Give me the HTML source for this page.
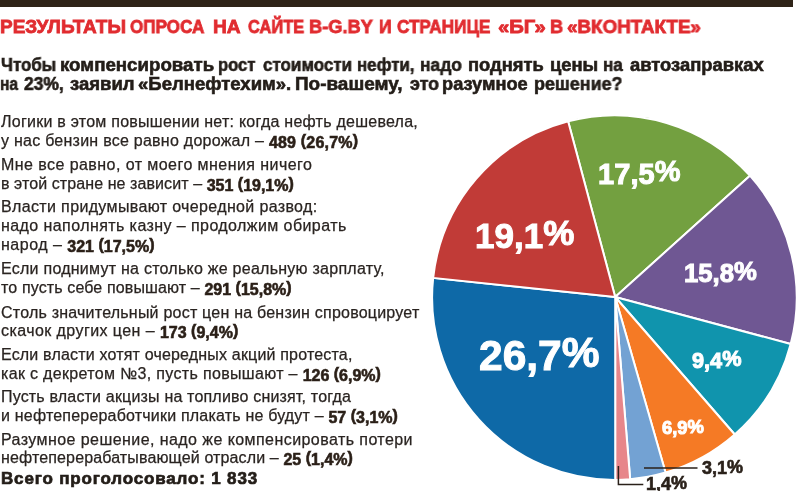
<!DOCTYPE html>
<html><head><meta charset="utf-8">
<style>
html,body{margin:0;padding:0;background:#fff;}
body{width:800px;height:491px;position:relative;overflow:hidden;font-family:"Liberation Sans",sans-serif;color:#2a2522;}
.bar{position:absolute;left:0;top:0;width:793px;height:7px;background:#2f2418;}
.l{position:absolute;left:1px;white-space:nowrap;line-height:20px;will-change:transform;}
.title{position:absolute;left:0;top:17px;height:20px;color:#e12c30;font-weight:bold;font-size:19px;line-height:20px;-webkit-text-stroke:0.8px #e12c30;}
.tw{position:absolute;top:0;white-space:nowrap;transform-origin:0 0;will-change:transform;}
.sub{position:absolute;left:0;height:20px;line-height:20px;color:#231d18;font-weight:bold;font-size:18px;-webkit-text-stroke:0.6px #231d18;}
.it{font-size:16px;color:#2a2421;-webkit-text-stroke:0.25px #2a2421;}
.it b{color:#2a1f17;letter-spacing:0;-webkit-text-stroke:0.6px #2a1f17;}
.it i{font-style:normal;position:relative;top:2px;}
.tot{font-weight:bold;font-size:17px;color:#231d18;-webkit-text-stroke:0.7px #231d18;}
svg{position:absolute;left:0;top:0;}
.d{position:relative;}
.pl{position:absolute;will-change:transform;white-space:nowrap;color:#fff;font-weight:bold;line-height:1;-webkit-text-stroke:1px #fff;}
.ol{position:absolute;will-change:transform;white-space:nowrap;color:#2a211a;font-weight:bold;line-height:1;-webkit-text-stroke:0.6px #2a211a;}
</style></head><body>
<div class="bar"></div>
<div class="title" id="t1"><span class="tw" style="left:0.25px;transform:scaleX(0.998)">РЕЗУЛЬТАТЫ</span><span class="tw" style="left:130.00px;transform:scaleX(0.899)">ОПРОСА</span><span class="tw" style="left:212.74px;transform:scaleX(1.010)">НА</span><span class="tw" style="left:247.50px;transform:scaleX(0.865)">САЙТЕ</span><span class="tw" style="left:309.04px;transform:scaleX(0.962)">B-G.BY</span><span class="tw" style="left:378.58px;transform:scaleX(0.917)">И</span><span class="tw" style="left:397.00px;transform:scaleX(0.903)">СТРАНИЦЕ</span><span class="tw" style="left:497.50px;transform:scaleX(1.068)">«БГ»</span><span class="tw" style="left:550.04px;transform:scaleX(0.958)">В</span><span class="tw" style="left:567.00px;transform:scaleX(0.989)">«ВКОНТАКТЕ»</span></div>
<div class="sub" id="s1" style="top:55px"><span class="tw" style="left:0.50px;transform:scaleX(0.940)">Чтобы</span><span class="tw" style="left:59.96px;transform:scaleX(1.039)">компенсировать</span><span class="tw" style="left:217.83px;transform:scaleX(0.921)">рост</span><span class="tw" style="left:262.50px;transform:scaleX(0.944)">стоимости</span><span class="tw" style="left:356.56px;transform:scaleX(0.938)">нефти,</span><span class="tw" style="left:419.63px;transform:scaleX(0.968)">надо</span><span class="tw" style="left:468.38px;transform:scaleX(1.018)">поднять</span><span class="tw" style="left:549.58px;transform:scaleX(1.020)">цены</span><span class="tw" style="left:603.45px;transform:scaleX(0.952)">на</span><span class="tw" style="left:630.00px;transform:scaleX(1.021)">автозаправках</span></div>
<div class="sub" id="s2" style="top:74px"><span class="tw" style="left:-0.37px;transform:scaleX(0.869)">на</span><span class="tw" style="left:23.75px;transform:scaleX(0.969)">23%,</span><span class="tw" style="left:70.00px;transform:scaleX(1.028)">заявил</span><span class="tw" style="left:137.50px;transform:scaleX(1.030)">«Белнефтехим».</span><span class="tw" style="left:295.20px;transform:scaleX(1.052)">По-вашему,</span><span class="tw" style="left:410.00px;transform:scaleX(0.991)">это</span><span class="tw" style="left:442.09px;transform:scaleX(1.012)">разумное</span><span class="tw" style="left:534.01px;transform:scaleX(0.994)">решение?</span></div>

<div class="l it" id="a1" style="top:112px;letter-spacing:0.25px">Логики в этом повышении нет: когда нефть дешевела,</div>
<div class="l it" id="a2" style="top:131px;letter-spacing:0.25px">у нас бензин все равно дорожал – <b style="letter-spacing:0.2px"><i>489</i> (<i>26,7%</i>)</b></div>
<div class="l it" id="b1" style="top:155px;letter-spacing:0.44px">Мне все равно, от моего мнения ничего</div>
<div class="l it" id="b2" style="top:174px;letter-spacing:0.083px">в этой стране не зависит – <b><i>351</i> (<i>19,1%</i>)</b></div>
<div class="l it" id="c1" style="top:197px;letter-spacing:0.356px">Власти придумывают очередной развод:</div>
<div class="l it" id="c2" style="top:216px;letter-spacing:0.42px">надо наполнять казну – продолжим обирать</div>
<div class="l it" id="c3" style="top:235px;letter-spacing:0.5px">народ – <b><i>321</i> (<i>17,5%</i>)</b></div>
<div class="l it" id="d1" style="top:259px;letter-spacing:0.25px">Если поднимут на столько же реальную зарплату,</div>
<div class="l it" id="d2" style="top:278px;letter-spacing:0.13px">то пусть себе повышают – <b><i>291</i> (<i>15,8%</i>)</b></div>
<div class="l it" id="e1" style="top:303px;letter-spacing:0.22px">Столь значительный рост цен на бензин спровоцирует</div>
<div class="l it" id="e2" style="top:321px;letter-spacing:0.43px">скачок других цен – <b><i>173</i> (<i>9,4%</i>)</b></div>
<div class="l it" id="f1" style="top:345px;letter-spacing:0.18px">Если власти хотят очередных акций протеста,</div>
<div class="l it" id="f2" style="top:364px;letter-spacing:0.33px">как с декретом №3, пусть повышают – <b><i>126</i> (<i>6,9%</i>)</b></div>
<div class="l it" id="g1" style="top:387px;letter-spacing:0.18px">Пусть власти акцизы на топливо снизят, тогда</div>
<div class="l it" id="g2" style="top:406px;letter-spacing:0.195px">и нефтепереработчики плакать не будут – <b><i>57</i> (<i>3,1%</i>)</b></div>
<div class="l it" id="h1" style="top:430px;letter-spacing:0.43px">Разумное решение, надо же компенсировать потери</div>
<div class="l it" id="h2" style="top:448px;letter-spacing:0.135px">нефтеперерабатывающей отрасли – <b><i>25</i> (<i>1,4%</i>)</b></div>
<div class="l tot" id="tot" style="top:469px;letter-spacing:0.84px">Всего проголосовало: 1 833</div>

<svg width="800" height="491" viewBox="0 0 800 491">
<g stroke="#fff" stroke-width="2" stroke-linejoin="miter">
<path fill="#73a040" d="M615.2,297.0 L568.11,121.27 A182.3,182.3 0 0 1 749.94,175.68 Z"/>
<path fill="#6f5793" d="M615.2,297.0 L749.94,175.68 A182.3,182.3 0 0 1 790.69,344.02 Z"/>
<path fill="#1094ad" d="M615.2,297.0 L790.69,344.02 A182.3,182.3 0 0 1 734.75,434.53 Z"/>
<path fill="#f57a25" d="M615.2,297.0 L734.75,434.53 A182.3,182.3 0 0 1 665.55,472.58 Z"/>
<path fill="#73a2d3" d="M615.2,297.0 L665.55,472.58 A182.3,182.3 0 0 1 630.18,479.22 Z"/>
<path fill="#e7868a" d="M615.2,297.0 L630.18,479.22 A182.3,182.3 0 0 1 615.20,479.90 Z"/>
<path fill="#0e69a7" d="M615.2,297.0 L615.20,479.90 A182.3,182.3 0 0 1 433.17,277.87 Z"/>
<path fill="#c13b37" d="M615.2,297.0 L433.17,277.87 A182.3,182.3 0 0 1 568.11,121.27 Z"/>
</g>
<g stroke="#2a211a" stroke-width="1.5" fill="none">
<path d="M644,468 H697.5"/>
<path d="M618.4,466 V484.6 H643.3"/>
</g>
</svg>
<div class="pl" style="left:597.5px;top:157px;font-size:29px;letter-spacing:0.1px"><span class="d" style="top:2.5px">17,5</span>%</div>
<div class="pl" style="left:474.5px;top:215px;font-size:35px"><span class="d" style="top:2.5px">19,1</span>%</div>
<div class="pl" style="left:478.6px;top:331.5px;font-size:42.5px"><span class="d" style="top:3px">26,7</span>%</div>
<div class="pl" style="left:684px;top:259.3px;font-size:25.7px"><span class="d" style="top:2px">15,8</span>%</div>
<div class="pl" style="left:692px;top:348px;font-size:21.7px"><span class="d" style="top:1.5px">9,4</span>%</div>
<div class="pl" style="left:662px;top:418px;font-size:18.4px"><span class="d" style="top:1px">6,9</span>%</div>
<div class="ol" style="left:702px;top:457.5px;font-size:18px"><span class="d" style="top:1px">3,1</span>%</div>
<div class="ol" style="left:645.5px;top:474px;font-size:18px"><span class="d" style="top:1px">1,4</span>%</div>
</body></html>
